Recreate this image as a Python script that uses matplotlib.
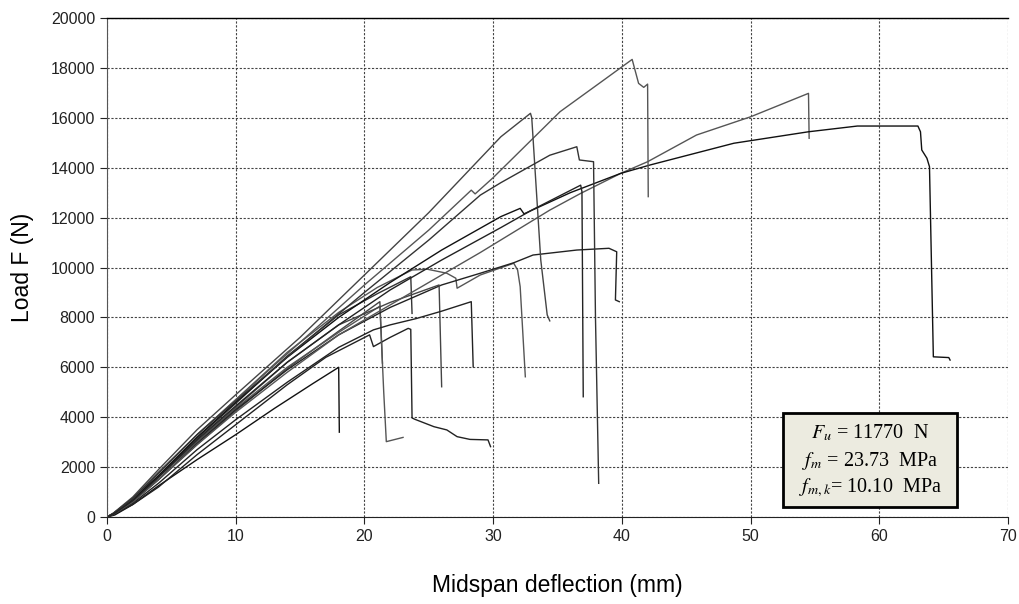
import matplotlib
matplotlib.use("Agg")
import matplotlib.pyplot as plt
from matplotlib.patches import Rectangle

plt.rcParams['font.family'] = ['Liberation Sans', 'DejaVu Sans']
plt.rcParams['mathtext.fontset'] = 'stix'

# ---- data (deflection mm, load N) ----
c01_x = [0, 0.6, 2, 4, 7, 10, 13, 16, 18.0, 18.05]
c01_F = [0, 80, 500, 1250, 2300, 3300, 4350, 5350, 6000, 3400]

c02_x = [0, 0.5, 2, 4, 7, 10, 14, 18, 21.2, 21.4]
c02_F = [0, 120, 650, 1500, 2900, 4250, 5950, 7450, 8630, 6170]

c03_x = [0, 0.5, 2, 4, 7, 10, 14, 17, 20.4, 20.7, 22, 23.4, 23.6, 23.7, 23.9, 25.4, 26.4, 27.2, 28.2, 29.6, 29.8]
c03_F = [0, 100, 500, 1200, 2500, 3700, 5300, 6400, 7300, 6830, 7200, 7560, 7520, 3970, 3920, 3620, 3490, 3220, 3110, 3090, 2820]

c04_x = [0, 0.5, 2, 4, 7, 10, 14, 18, 21.2, 21.5, 21.7, 23.0]
c04_F = [0, 150, 700, 1600, 3000, 4350, 6000, 7400, 8450, 5000, 3020, 3190]

c05_x = [0, 0.5, 2, 4, 7, 10, 14, 18, 21, 23.6, 23.7]
c05_F = [0, 130, 700, 1650, 3150, 4550, 6450, 8100, 8950, 9630, 8160]

c06_x = [0, 0.5, 2, 4, 7, 10, 14, 18, 21, 23.7, 24.9, 26.4, 27.1, 27.2, 29, 31.6, 31.9, 32.1, 32.5]
c06_F = [0, 150, 750, 1750, 3300, 4700, 6600, 8200, 9200, 9900, 9930, 9770, 9570, 9170, 9700, 10170, 9900, 9230, 5620]

c07_x = [0, 0.5, 2, 4, 7, 10, 14, 18, 22, 26, 29, 31.6, 33.1, 36.5, 39.0, 39.6, 39.5, 39.8]
c07_F = [0, 100, 600, 1500, 2950, 4300, 5900, 7300, 8400, 9300, 9770, 10190, 10500, 10700, 10770, 10630, 8700, 8630]

c08_x = [0, 0.5, 2, 4, 7, 10, 14, 18, 22, 25.8, 26.0]
c08_F = [0, 120, 650, 1600, 3050, 4400, 6200, 7700, 8600, 9300, 5220]

c09_x = [0, 0.5, 2, 4, 7, 10, 14, 18, 20.7, 22, 23.6, 24, 26, 28.3, 28.45]
c09_F = [0, 100, 550, 1350, 2700, 3900, 5400, 6800, 7500, 7700, 7900, 7950, 8250, 8630, 6020]

c10_x = [0, 0.5, 2, 4, 7, 10, 14, 18, 22, 26, 29, 34.4, 36.8, 39.9, 42, 45.8, 50, 54.5, 54.55]
c10_F = [0, 110, 600, 1500, 2900, 4200, 5800, 7300, 8500, 9700, 10600, 12300, 12970, 13770, 14240, 15310, 16040, 16980, 15180]

c11_x = [0, 0.5, 2, 4, 7, 10, 14, 18, 22, 26, 30.6, 32.1, 32.4, 36, 39.9, 42.2, 48.7, 54.5, 58.3, 63.0, 63.2, 63.3, 63.7, 63.9, 64.2, 65.4, 65.5]
c11_F = [0, 130, 700, 1650, 3200, 4600, 6400, 8000, 9400, 10700, 12040, 12370, 12150, 13000, 13770, 14110, 14980, 15440, 15670, 15670, 15440, 14710, 14380, 14040, 6420, 6390, 6290]

c12_x = [0, 0.5, 2, 4, 7, 10, 15, 20, 25, 28.3, 28.6, 30, 35.2, 38.6, 40.8, 41.3, 41.7, 42.0, 42.05]
c12_F = [0, 140, 750, 1800, 3300, 4700, 7000, 9300, 11500, 13100, 12950, 13600, 16245, 17515, 18340, 17380, 17220, 17350, 12840]

c13_x = [0, 0.5, 2, 4, 7, 10, 15, 20, 25, 30.6, 32.9, 33.0, 33.7, 34.2, 34.4]
c13_F = [0, 160, 800, 1900, 3500, 4900, 7200, 9700, 12200, 15240, 16180, 16000, 10300, 8100, 7860]

c14_x = [0, 0.5, 2, 4, 7, 10, 15, 20, 25, 29, 30.6, 34.4, 36.5, 36.7, 37.8, 37.95, 38.2]
c14_F = [0, 140, 750, 1750, 3300, 4650, 6850, 9000, 11100, 12900, 13400, 14500, 14840, 14310, 14240, 8000, 1350]

c15_x = [0, 0.5, 2, 4, 7, 10, 14, 18, 22, 26, 30.6, 33, 36.8, 36.9, 37.0]
c15_F = [0, 120, 650, 1600, 3100, 4450, 6200, 7700, 9100, 10300, 11600, 12300, 13300, 13040, 4820]

curves = [(c01_x, c01_F), (c02_x, c02_F), (c03_x, c03_F), (c04_x, c04_F),
          (c05_x, c05_F), (c06_x, c06_F), (c07_x, c07_F), (c08_x, c08_F),
          (c09_x, c09_F), (c10_x, c10_F), (c11_x, c11_F), (c12_x, c12_F),
          (c13_x, c13_F), (c14_x, c14_F), (c15_x, c15_F)]
colors = ['#111111', '#444444', '#222222', '#555555', '#333333', '#555555',
          '#222222', '#444444', '#222222', '#555555', '#111111', '#555555',
          '#444444', '#333333', '#222222']

x_ticks = [0, 10, 20, 30, 40, 50, 60, 70]
y_ticks = [0, 2000, 4000, 6000, 8000, 10000, 12000, 14000, 16000, 18000, 20000]

fig = plt.figure(figsize=(10.2, 6.04), dpi=100)
ax = fig.add_axes([107/1020, 87/604, 901/1020, 499/604])

for (xs, fs), c in zip(curves, colors):
    ax.plot(xs, fs, color=c, lw=1.0)

ax.set_xlim(0, 70)
ax.set_ylim(0, 20000)
ax.set_xticks(x_ticks)
ax.set_yticks(y_ticks)
ax.grid(True, color='#444444', lw=0.8, linestyle=(0, (2, 1.5)))
ax.set_axisbelow(True)
ax.spines['right'].set_visible(False)
ax.spines['top'].set_linewidth(1.0)
ax.spines['left'].set_color('#555555')
ax.spines['bottom'].set_color('#222222')
ax.tick_params(direction='out', length=5, width=0.8, labelsize=11.5, colors='#222222')

ax.set_xlabel('Midspan deflection (mm)', fontsize=16.5, labelpad=22)
ax.set_ylabel('Load F (N)', fontsize=16.5, labelpad=12)

# info box
ax.add_patch(Rectangle((0.750, 0.020), 0.193, 0.188, transform=ax.transAxes,
                       facecolor='#ECEBE0', edgecolor='black', lw=2, zorder=5))
lines = [r'$F_u$ = 11770  N', r'$f_m$ = 23.73  MPa', r'$f_{m,k}$= 10.10  MPa']
ys = [0.168, 0.113, 0.058]
for t, yy in zip(lines, ys):
    ax.text(0.847, yy, t, transform=ax.transAxes, ha='center', va='center',
            fontsize=14.5, family=['Liberation Serif', 'DejaVu Serif'], zorder=6)

fig.savefig('out.png', dpi=100)
